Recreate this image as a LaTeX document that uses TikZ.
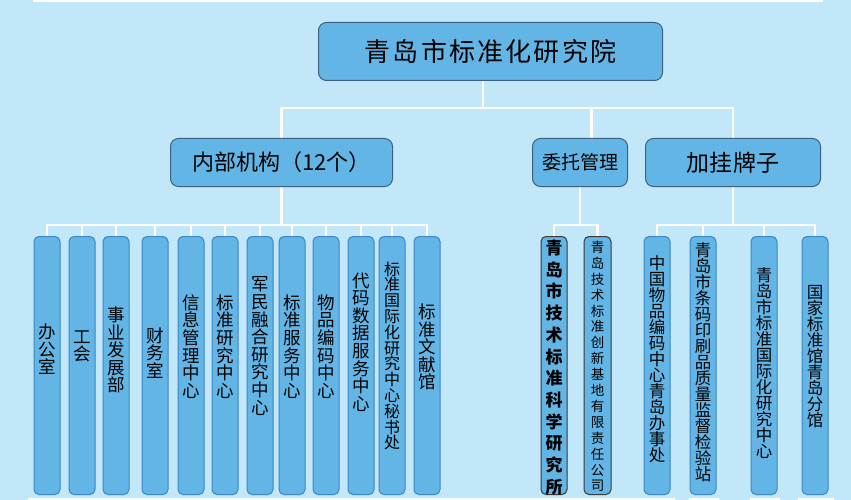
\documentclass[tikz,border=0pt]{standalone}
\usepackage{fontspec}
\newfontfamily\cjk{Noto Sans CJK SC}
\usetikzlibrary{backgrounds}
\definecolor{bg}{HTML}{C1E7F8}
\definecolor{boxfill}{HTML}{63B5E6}
\definecolor{boxline}{HTML}{3E5F7E}
\definecolor{leafline}{HTML}{3A86C6}
\definecolor{darkline}{HTML}{3A3A3A}
\begin{document}
\begin{tikzpicture}[x=1pt,y=-1pt,
  conn/.style={draw=white, line width=2.5pt},
  headbox/.style={draw=boxline, fill=boxfill, line width=1pt, rounded corners=8pt, inner sep=0pt, anchor=north west, text=black},
  leafbox/.style={draw=leafline, fill=boxfill, line width=1pt, rounded corners=5pt, inner sep=0pt, minimum width=26pt, minimum height=258pt, anchor=north},
  darkbox/.style={leafbox, draw=darkline},
  lt/.style={inner sep=0pt, align=center, font={\cjk\fontsize{17.5}{17.6}\selectfont}},
  ltsmall/.style={inner sep=0pt, align=center, font={\cjk\fontsize{16}{15.8}\selectfont}},
  ltc/.style={inner sep=0pt, align=center, font={\cjk\fontsize{16.5}{16}\selectfont}},
  lta/.style={inner sep=0pt, align=center, font={\cjk\bfseries\fontsize{17}{21.7}\selectfont}},
  ltb/.style={inner sep=0pt, align=center, font={\cjk\fontsize{13.5}{15.9}\selectfont}}
]
\useasboundingbox (0,0) rectangle (851,500);

% top level
\node[headbox, minimum width=344pt, minimum height=58pt, font={\cjk\fontsize{26}{30}\selectfont}] (top) at (318,22)
  {青\kern2.2pt 岛\kern2.2pt 市\kern2.2pt 标\kern2.2pt 准\kern2.2pt 化\kern2.2pt 研\kern2.2pt 究\kern2.2pt 院};

% second level
\node[headbox, minimum width=222pt, minimum height=48pt, font={\cjk\fontsize{22}{26}\selectfont}] (n1) at (170,138) {内部机构（12个）};
\node[headbox, minimum width=95pt, minimum height=48pt, font={\cjk\fontsize{19}{23}\selectfont}] (n2) at (532,138) {委托管理};
\node[headbox, minimum width=175pt, minimum height=48pt, font={\cjk\fontsize{23}{27}\selectfont}] (n3) at (645,138) {加\kern0.5pt 挂\kern0.5pt 牌\kern0.5pt 子};

% leaves of 内部机构
\node[leafbox, label={[lt,yshift=16pt]center:{办\\公\\室}}] (L1) at (47,236) {};
\node[leafbox, label={[lt,yshift=19pt]center:{工\\会}}] (L2) at (82,236) {};
\node[leafbox, label={[lt,yshift=15.5pt]center:{事\\业\\发\\展\\部}}] (L3) at (116,236) {};
\node[leafbox, label={[lt,yshift=12.5pt]center:{财\\务\\室}}] (L4) at (155,236) {};
\node[leafbox, label={[lt,yshift=19pt]center:{信\\息\\管\\理\\中\\心}}] (L5) at (191,236) {};
\node[leafbox, label={[lt,yshift=19pt]center:{标\\准\\研\\究\\中\\心}}] (L6) at (225,236) {};
\node[leafbox, label={[lt,yshift=19.5pt]center:{军\\民\\融\\合\\研\\究\\中\\心}}] (L7) at (260,236) {};
\node[leafbox, label={[lt,yshift=19pt]center:{标\\准\\服\\务\\中\\心}}] (L8) at (292,236) {};
\node[leafbox, label={[lt,yshift=19pt]center:{物\\品\\编\\码\\中\\心}}] (L9) at (326,236) {};
\node[leafbox, label={[lt,yshift=23.5pt]center:{代\\码\\数\\据\\服\\务\\中\\心}}] (L10) at (361,236) {};
\node[leafbox, label={[ltsmall,yshift=9.5pt]center:{标\\准\\国\\际\\化\\研\\究\\中\\心\\秘\\书\\处}}] (L11) at (392,236) {};
\node[leafbox, label={[lt,yshift=18.5pt]center:{标\\准\\文\\献\\馆}}] (L12) at (427,236) {};

% leaves of 委托管理
\node[darkbox, label={[lta,yshift=-2pt]center:{青\\岛\\市\\技\\术\\标\\准\\科\\学\\研\\究\\所}}] (A) at (554,236) {};
\node[darkbox, minimum width=27pt, label={[ltb,yshift=-1pt]center:{青\\岛\\技\\术\\标\\准\\创\\新\\基\\地\\有\\限\\责\\任\\公\\司}}] (B) at (597.5,236) {};

% leaves of 加挂牌子
\node[leafbox, label={[ltc,yshift=6.5pt]center:{中\\国\\物\\品\\编\\码\\中\\心\\青\\岛\\办\\事\\处}}] (C1) at (657,236) {};
\node[leafbox, label={[ltc,yshift=3pt]center:{青\\岛\\市\\条\\码\\印\\刷\\品\\质\\量\\监\\督\\检\\验\\站}}] (C2) at (703,236) {};
\node[leafbox, label={[ltc,yshift=2.5pt]center:{青\\岛\\市\\标\\准\\国\\际\\化\\研\\究\\中\\心}}] (C3) at (764,236) {};
\node[leafbox, label={[ltc,yshift=8.5pt]center:{国\\家\\标\\准\\馆\\青\\岛\\分\\馆}}] (C4) at (815,236) {};

% white strips at the edges
\fill[white] (33,0) rectangle (823,2);
\fill[white] (28,497.5) rectangle (675,500);
\fill[white] (689,497.5) rectangle (719,500);
\fill[white] (750,497.5) rectangle (780,500);
\fill[white] (798,497.5) rectangle (834,500);

\begin{pgfonlayer}{background}
\fill[bg] (0,0) rectangle (851,500);
\coordinate (b1) at (0,108);
\coordinate (b2) at (0,225);
\coordinate (topdn) at ([xshift=-7.5pt]top.south);
\coordinate (n2up) at ([xshift=11.5pt]n2.north);
\draw[conn] (topdn) -- (topdn |- b1);
\draw[conn] (n1.north) -- (n1.north |- b1) -- (n3.north |- b1) -- (n3.north);
\draw[conn] (n2up) -- (n2up |- b1);
% under 内部机构
\draw[conn] (n1.south) -- (n1.south |- b2);
\draw[conn] (L1.north) -- (L1.north |- b2) -- (L12.north |- b2) -- (L12.north);
\foreach \k in {2,...,11} {\draw[conn] (L\k.north) -- (L\k.north |- b2);}
% under 委托管理
\draw[conn] (n2.south) -- (n2.south |- b2);
\draw[conn] (A.north) -- (A.north |- b2) -- (B.north |- b2) -- (B.north);
% under 加挂牌子
\draw[conn] (n3.south) -- (n3.south |- b2);
\draw[conn] (C1.north) -- (C1.north |- b2) -- (C4.north |- b2) -- (C4.north);
\draw[conn] (C2.north) -- (C2.north |- b2);
\draw[conn] (C3.north) -- (C3.north |- b2);
\end{pgfonlayer}
\end{tikzpicture}
\end{document}
